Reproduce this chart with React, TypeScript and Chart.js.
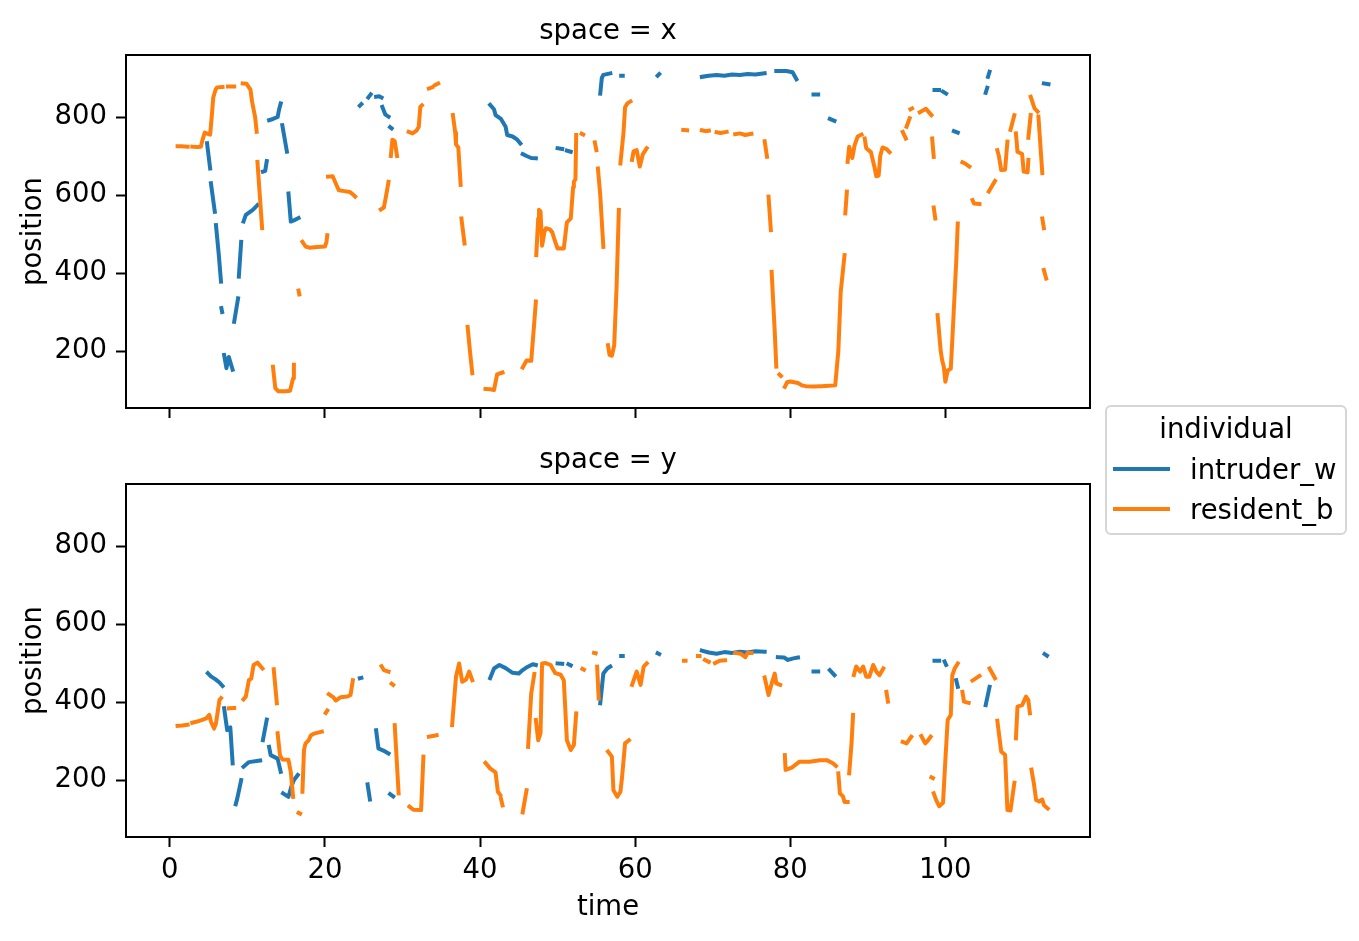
import React, { useEffect, useRef } from 'react';
import { Chart, registerables } from 'chart.js';

Chart.register(...registerables);

type Seg = [number, number][];

const BLUE = '#1f77b4';
const ORANGE = '#ff7f0e';
const FONT = 'DejaVu Sans';

// shared axes
const timeTicks = [0, 20, 40, 60, 80, 100];
const positionTicks = [200, 400, 600, 800];
const timeRange = [-5.65, 118.65];
const positionRange = [54, 959];

// space = x, each inner list is one unbroken stretch of track
const xIntruder: Seg[] = [
  [[4.8, 733], [5.2, 668]],
  [[5.3, 630], [5.8, 557]],
  [[5.95, 523], [6.3, 450], [6.6, 378]],
  [[6.65, 310], [6.75, 300]],
  [[7.0, 190], [7.3, 156], [7.6, 185], [8.1, 152]],
  [[8.3, 275], [8.8, 335]],
  [[8.9, 391], [9.2, 480]],
  [[9.5, 532], [9.8, 549], [10.7, 562], [11.3, 574]],
  [[12.0, 660], [12.3, 662], [12.5, 687]],
  [[12.8, 792], [13.3, 795], [13.9, 800], [14.1, 820], [14.3, 835]],
  [[14.5, 779], [15.1, 711]],
  [[15.3, 604], [15.6, 532], [16.0, 535], [16.6, 541]],
  [[24.5, 829], [24.7, 833]],
  [[25.6, 850], [25.9, 858]],
  [[26.6, 852], [27.0, 853], [27.3, 850]],
  [[27.4, 826], [27.8, 806], [28.2, 801]],
  [[28.4, 774], [28.6, 771]],
  [[41.3, 831], [41.8, 820], [42.0, 805], [42.7, 795], [43.3, 775], [43.5, 754], [44.2, 750], [44.8, 742], [45.2, 732]],
  [[45.5, 705], [46.0, 700], [46.6, 695], [47.2, 694]],
  [[50.0, 720], [50.6, 718]],
  [[51.2, 714], [51.7, 711]],
  [[55.5, 860], [55.7, 900], [55.9, 908], [56.8, 912]],
  [[58.2, 906], [58.4, 906]],
  [[62.9, 906], [63.1, 910]],
  [[68.6, 903], [69.5, 906], [70.5, 908], [71.5, 906], [72.5, 909], [73.5, 908], [74.5, 910], [75.5, 909], [76.7, 912]],
  [[78.2, 918], [79.5, 918], [80.3, 915], [80.8, 897]],
  [[83.0, 858], [83.6, 858]],
  [[85.1, 795], [85.7, 790]],
  [[98.6, 869], [99.2, 869]],
  [[99.7, 865], [100.1, 860]],
  [[101.1, 764], [101.6, 760]],
  [[105.2, 862], [105.4, 875]],
  [[105.5, 903], [105.7, 916]],
  [[112.7, 886], [113.3, 884]],
];

const xResident: Seg[] = [
  [[1.0, 725], [1.5, 725], [2.3, 724]],
  [[2.9, 724], [3.5, 723], [4.0, 724], [4.2, 740], [4.5, 760], [4.9, 757], [5.2, 755], [5.4, 800], [5.6, 850], [5.9, 870], [6.1, 876], [6.8, 877]],
  [[7.5, 878], [8.3, 878]],
  [[9.4, 886], [9.9, 885], [10.4, 870], [10.6, 840], [11.0, 800], [11.2, 762]],
  [[11.3, 685], [11.6, 600], [11.9, 515]],
  [[13.3, 160], [13.6, 105], [14.0, 97], [15.0, 97], [15.5, 98], [15.9, 130], [16.0, 165]],
  [[16.6, 355], [16.7, 345]],
  [[17.1, 480], [17.5, 468], [18.0, 465], [19.0, 467], [20.0, 468], [20.2, 480], [20.3, 497]],
  [[20.4, 647], [21.0, 648], [21.5, 625], [21.8, 612], [22.5, 610], [23.2, 608], [23.7, 600], [23.9, 596]],
  [[27.2, 563], [27.6, 568], [27.9, 600], [28.2, 634]],
  [[28.5, 700], [28.7, 742], [29.0, 738], [29.3, 700]],
  [[30.8, 762], [31.3, 758], [31.8, 765], [32.1, 775], [32.3, 826], [32.5, 830]],
  [[33.4, 873], [33.8, 876]],
  [[34.2, 882], [34.6, 886]],
  [[36.5, 805], [36.8, 760], [36.9, 730], [37.2, 722], [37.5, 626]],
  [[37.6, 540], [38.0, 476]],
  [[38.4, 262], [38.7, 200], [39.0, 143]],
  [[40.7, 103], [41.3, 102], [41.8, 100], [42.2, 140], [42.9, 145]],
  [[45.5, 158], [46.0, 176], [46.6, 175], [46.9, 250], [47.2, 327]],
  [[47.25, 446], [47.5, 540], [47.6, 562], [47.8, 558], [48.0, 470], [48.3, 505], [48.5, 515], [49.0, 512], [49.3, 505], [49.7, 480], [50.0, 463], [50.8, 463], [51.2, 530], [51.7, 540], [52.0, 620], [52.1, 634], [52.3, 640], [52.4, 754]],
  [[53.1, 757], [53.3, 755]],
  [[54.8, 735], [55.0, 715]],
  [[55.2, 668], [55.5, 600], [55.9, 467]],
  [[56.5, 215], [56.7, 190], [57.0, 188], [57.3, 215], [57.6, 361], [57.9, 562]],
  [[58.1, 681], [58.5, 760], [58.7, 825], [59.0, 835], [59.4, 840]],
  [[59.6, 690], [59.8, 712], [60.2, 715], [60.6, 673], [61.0, 705], [61.5, 720]],
  [[66.2, 767], [66.7, 766]],
  [[68.6, 766], [68.9, 765]],
  [[69.2, 764], [69.5, 765]],
  [[70.5, 761], [71.0, 759], [71.8, 762]],
  [[72.9, 756], [73.5, 758], [74.2, 754], [75.0, 757]],
  [[76.7, 738], [77.0, 698]],
  [[77.2, 596], [77.5, 510]],
  [[77.6, 403], [78.0, 250], [78.2, 160]],
  [[78.6, 140], [78.8, 136]],
  [[79.3, 108], [79.6, 120], [80.0, 122], [81.0, 118], [81.5, 112], [82.0, 110], [83.0, 109], [84.0, 110], [85.0, 111], [85.8, 112], [86.2, 200], [86.5, 350], [87.0, 446]],
  [[87.1, 553], [87.3, 609]],
  [[87.4, 685], [87.6, 724], [88.0, 695], [88.3, 728], [88.7, 750], [89.2, 755]],
  [[89.6, 745], [89.8, 720], [90.4, 710], [90.9, 668], [91.1, 648], [91.4, 650], [91.6, 700], [91.9, 722], [92.4, 718], [92.8, 710]],
  [[94.5, 762], [94.9, 745]],
  [[95.0, 775], [95.4, 797]],
  [[95.5, 820], [95.7, 822]],
  [[96.7, 812], [97.5, 821], [98.2, 805]],
  [[98.3, 745], [98.5, 698]],
  [[98.5, 568], [98.7, 540]],
  [[99.0, 292], [99.4, 200], [99.6, 175], [99.8, 160], [100.0, 121], [100.3, 150], [100.7, 155], [100.9, 230], [101.4, 429], [101.6, 527]],
  [[102.2, 684], [102.6, 680], [103.1, 673]],
  [[103.5, 587], [103.7, 578], [104.4, 577]],
  [[105.6, 609], [106.4, 636]],
  [[106.7, 715], [106.9, 700], [107.2, 664], [107.7, 665], [108.0, 737]],
  [[108.4, 767], [108.9, 805]],
  [[109.1, 758], [109.3, 711], [109.9, 705], [110.1, 660], [110.6, 658], [110.7, 690]],
  [[110.7, 747], [111.0, 805]],
  [[111.0, 852], [111.5, 822], [111.9, 814]],
  [[112.0, 801], [112.5, 656]],
  [[112.5, 540], [112.7, 515]],
  [[112.7, 408], [113.0, 386]],
];

// space = y
const yIntruder: Seg[] = [
  [[4.9, 474], [5.3, 466], [5.9, 458], [6.4, 450], [6.8, 441]],
  [[7.0, 384], [7.4, 328], [7.8, 335], [8.1, 243]],
  [[8.5, 138], [8.7, 153], [9.2, 200]],
  [[9.5, 234], [10.2, 246], [11.65, 250]],
  [[12.0, 302], [12.5, 355]],
  [[12.8, 285], [13.0, 264], [13.9, 255], [14.3, 221]],
  [[14.6, 166], [15.3, 157], [15.7, 185], [16.0, 200], [16.5, 213]],
  [[24.5, 461], [24.7, 462]],
  [[25.5, 189], [25.8, 150]],
  [[26.6, 328], [26.9, 281], [27.6, 275], [28.2, 268]],
  [[28.4, 164], [28.8, 158]],
  [[41.3, 461], [41.8, 486], [42.5, 495], [43.3, 487], [44.2, 475], [45.0, 473], [45.5, 482], [46.1, 490], [46.8, 497], [47.2, 495]],
  [[50.0, 499], [50.6, 498]],
  [[51.4, 497], [51.7, 494]],
  [[55.5, 397], [55.9, 473], [56.4, 486], [56.8, 491]],
  [[58.2, 518], [58.4, 518]],
  [[62.9, 525], [63.1, 523]],
  [[68.6, 532], [69.5, 527], [70.5, 524], [71.5, 528], [72.5, 526], [73.5, 529], [74.5, 527], [75.5, 530], [76.7, 529]],
  [[78.4, 515], [79.2, 514], [79.7, 508], [80.4, 512], [81.0, 514]],
  [[83.0, 478], [83.6, 478]],
  [[85.1, 482], [85.7, 469]],
  [[98.6, 506], [99.2, 506]],
  [[99.9, 504], [100.1, 495]],
  [[101.4, 456], [101.6, 439]],
  [[105.2, 392], [105.7, 439]],
  [[112.8, 523], [113.1, 519]],
];

const yResident: Seg[] = [
  [[1.0, 339], [1.6, 340], [2.3, 342]],
  [[2.9, 347], [3.5, 350], [4.0, 353], [4.7, 358], [5.1, 367], [5.3, 350], [5.7, 332], [5.95, 345], [6.4, 405], [6.6, 410]],
  [[7.6, 384], [8.3, 385]],
  [[9.5, 407], [9.8, 414], [10.2, 456], [10.5, 460], [10.8, 495], [11.3, 501], [11.95, 486]],
  [[13.4, 484], [13.8, 397]],
  [[13.9, 320], [14.2, 264], [14.5, 253], [15.3, 252], [15.6, 220], [15.9, 157]],
  [[16.6, 116], [16.8, 114]],
  [[17.1, 170], [17.3, 277], [17.5, 294], [17.9, 302], [18.2, 315], [18.6, 319], [19.6, 324]],
  [[20.1, 372], [20.3, 378]],
  [[20.5, 420], [21.1, 412], [21.4, 404], [22.0, 412], [22.9, 414], [23.3, 418], [23.6, 456]],
  [[27.3, 492], [27.6, 482], [28.2, 478]],
  [[28.6, 447], [28.8, 444]],
  [[29.0, 341], [29.5, 166]],
  [[30.9, 132], [31.4, 124], [32.4, 123], [32.7, 260]],
  [[33.4, 311], [34.4, 315]],
  [[36.4, 341], [36.9, 465], [37.3, 499], [37.7, 452], [38.2, 458], [38.6, 478], [39.0, 456]],
  [[40.7, 244], [41.3, 230], [42.0, 220], [42.3, 170], [42.6, 162]],
  [[42.7, 152], [42.9, 135]],
  [[45.5, 117], [46.0, 174]],
  [[46.2, 285], [46.6, 422], [47.0, 472]],
  [[47.2, 354], [47.5, 302], [47.8, 320], [48.0, 499], [48.5, 500], [49.1, 495], [49.7, 474], [50.4, 470], [50.8, 456], [51.2, 302], [51.7, 277], [52.1, 290], [52.4, 371]],
  [[53.2, 485], [53.4, 483]],
  [[54.7, 526], [54.9, 525]],
  [[55.1, 491], [55.3, 409]],
  [[56.5, 273], [57.0, 260], [57.2, 174], [57.7, 157], [58.1, 170], [58.3, 205], [58.7, 294], [59.2, 302]],
  [[59.6, 444], [60.2, 478], [60.7, 444], [61.1, 491], [61.5, 499]],
  [[66.3, 506], [66.5, 506]],
  [[68.1, 518], [68.3, 518]],
  [[69.0, 508], [69.5, 503]],
  [[70.3, 500], [70.9, 506], [71.6, 507]],
  [[72.9, 526], [73.6, 524], [74.2, 515], [74.5, 526], [75.0, 526]],
  [[76.7, 463], [77.2, 418], [77.6, 447], [78.0, 473], [78.2, 448], [78.7, 444]],
  [[79.3, 264], [79.4, 226], [80.2, 232], [81.2, 247], [82.5, 247], [83.8, 251], [84.7, 251], [85.5, 243], [85.9, 236]],
  [[86.2, 217], [86.4, 166], [86.8, 158], [87.0, 144], [87.4, 144]],
  [[87.6, 217], [87.9, 294], [88.1, 367]],
  [[88.2, 469], [88.5, 491], [89.0, 478], [89.4, 491], [89.8, 465], [90.2, 465], [90.7, 495], [91.1, 478], [91.5, 469], [92.0, 486]],
  [[92.4, 426], [92.6, 401]],
  [[94.5, 298], [95.0, 294], [95.6, 311]],
  [[96.9, 313], [97.4, 294], [97.7, 300], [98.1, 311]],
  [[98.2, 207], [98.4, 205]],
  [[98.5, 166], [98.8, 149], [99.2, 133], [99.7, 142], [100.0, 251], [100.3, 354], [100.7, 367], [100.9, 469], [101.2, 486], [101.6, 499]],
  [[102.2, 426], [102.4, 401], [103.0, 398]],
  [[103.5, 455], [104.4, 467]],
  [[105.7, 486], [106.4, 461]],
  [[106.7, 352], [107.2, 273], [107.7, 265], [108.0, 123], [108.4, 122], [108.9, 193]],
  [[109.1, 307], [109.3, 388], [109.9, 392], [110.4, 414], [110.7, 405], [110.9, 371]],
  [[111.1, 227], [111.4, 193], [111.7, 149], [112.1, 145], [112.5, 150], [112.7, 136], [113.2, 127]],
];

// join the stretches, with a null point between them so the line breaks
function toPoints(segs: Seg[]) {
  const out: { x: number; y: number | null }[] = [];
  segs.forEach((seg, i) => {
    if (i > 0) out.push({ x: (segs[i - 1][segs[i - 1].length - 1][0] + seg[0][0]) / 2, y: null });
    seg.forEach(([x, y]) => out.push({ x, y }));
  });
  return out;
}

const framePlugin = {
  id: 'frame',
  afterDraw(chart: any) {
    const { ctx, chartArea } = chart;
    ctx.save();
    ctx.strokeStyle = '#000';
    ctx.lineWidth = 2;
    ctx.strokeRect(chartArea.left, chartArea.top, chartArea.right - chartArea.left, chartArea.bottom - chartArea.top);
    ctx.restore();
  },
};

interface PanelProps {
  title: string;
  intruder: Seg[];
  resident: Seg[];
  showTime: boolean;
  top: number;
  height: number;
  axisHeight: number;
  titlePad: { top: number; bottom: number };
}

const FONT_SIZE = 27.5;

const Panel: React.FC<PanelProps> = ({ title, intruder, resident, showTime, top, height, axisHeight, titlePad }) => {
  const canvas = useRef<HTMLCanvasElement | null>(null);

  useEffect(() => {
    if (!canvas.current) return;
    const font = { family: FONT, size: FONT_SIZE, weight: 'normal' as const };
    const line = (data: any, color: string, order: number) => ({
      data,
      borderColor: color,
      backgroundColor: color,
      borderWidth: 4,
      pointRadius: 0,
      tension: 0,
      spanGaps: false,
      borderCapStyle: 'square' as const,
      borderJoinStyle: 'round' as const,
      order,
    });
    const chart = new Chart(canvas.current, {
      type: 'line',
      data: {
        datasets: [line(toPoints(intruder), BLUE, 1), line(toPoints(resident), ORANGE, 0)],
      },
      options: {
        animation: false,
        responsive: true,
        maintainAspectRatio: false,
        layout: { padding: { left: 0, right: 269, top: 0, bottom: 0 } },
        plugins: {
          legend: { display: false },
          tooltip: { enabled: false },
          title: {
            display: true,
            text: title,
            color: '#000',
            font,
            fullSize: false,
            padding: titlePad,
          },
        },
        scales: {
          x: {
            type: 'linear',
            min: timeRange[0],
            max: timeRange[1],
            afterBuildTicks: (s: any) => {
              s.ticks = timeTicks.map((v) => ({ value: v }));
            },
            afterFit: (s: any) => {
              s.height = axisHeight;
            },
            border: { display: false },
            grid: { drawOnChartArea: false, drawTicks: true, tickLength: 10, tickWidth: 2, tickColor: '#000' },
            ticks: { display: showTime, color: '#000', font, padding: 7.5, maxRotation: 0, autoSkip: false },
            title: { display: showTime, text: 'time', color: '#000', font, padding: { top: 0, bottom: 17 } },
          },
          y: {
            type: 'linear',
            min: positionRange[0],
            max: positionRange[1],
            afterBuildTicks: (s: any) => {
              s.ticks = positionTicks.map((v) => ({ value: v }));
            },
            afterFit: (s: any) => {
              s.width = 126;
            },
            border: { display: false },
            grid: { drawOnChartArea: false, drawTicks: true, tickLength: 10, tickWidth: 2, tickColor: '#000' },
            ticks: { color: '#000', font, padding: 9 },
            title: { display: true, text: 'position', color: '#000', font, padding: { top: 17.5, bottom: 0 } },
          },
        },
      },
      plugins: [framePlugin],
    });
    return () => chart.destroy();
  }, [title, intruder, resident, showTime, axisHeight, titlePad]);

  return (
    <div style={{ position: 'absolute', left: 0, top, width: 1359, height }}>
      <canvas ref={canvas}></canvas>
    </div>
  );
};

const topPad = { top: 15.5, bottom: 6.5 };
const bottomPad = { top: 6.5, bottom: 6.5 };

export default function App() {
  const swatch = (color: string, y: number) => (
    <div style={{ position: 'absolute', left: 6, top: y - 2, width: 57, height: 4, background: color }} />
  );
  const label = (text: string, y: number) => (
    <div style={{ position: 'absolute', left: 83, top: y - 17, lineHeight: '34px', whiteSpace: 'nowrap' }}>{text}</div>
  );
  return (
    <div style={{ position: 'fixed', left: 0, top: 0, width: 1359, height: 941, background: '#fff', overflow: 'hidden' }}>
      <Panel title="space = x" intruder={xIntruder} resident={xResident} showTime={false} top={0} height={438} axisHeight={30} titlePad={topPad} />
      <Panel title="space = y" intruder={yIntruder} resident={yResident} showTime={true} top={438} height={503} axisHeight={104} titlePad={bottomPad} />
      <div
        style={{
          position: 'absolute',
          left: 1105,
          top: 405,
          width: 242,
          height: 130,
          boxSizing: 'border-box',
          border: '2px solid #d6d6d6',
          borderRadius: 6,
          background: '#fff',
          fontFamily: FONT,
          fontSize: FONT_SIZE,
          color: '#000',
        }}
      >
        <div style={{ position: 'absolute', left: 0, right: 0, top: 4, lineHeight: '34px', textAlign: 'center' }}>individual</div>
        {swatch(BLUE, 62)}
        {label('intruder_w', 62)}
        {swatch(ORANGE, 102)}
        {label('resident_b', 102)}
      </div>
    </div>
  );
}
